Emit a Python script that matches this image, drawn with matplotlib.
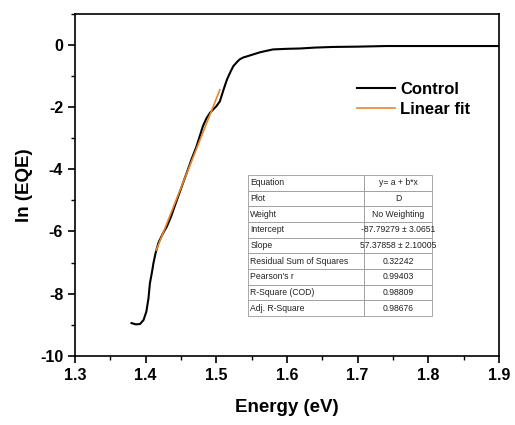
import matplotlib.pyplot as plt
import numpy as np
from matplotlib.ticker import MultipleLocator

plt.rcParams['font.family'] = ['Liberation Sans', 'DejaVu Sans']
plt.rcParams['font.weight'] = 'bold'
plt.rcParams['axes.unicode_minus'] = False

# ln(EQE) vs photon energy
energy = [1.380, 1.386, 1.392, 1.397, 1.401, 1.404, 1.406, 1.409, 1.411, 1.414, 1.418,
          1.424, 1.430, 1.436, 1.441, 1.450, 1.458, 1.465, 1.472, 1.477, 1.481, 1.486,
          1.491, 1.496, 1.500, 1.505, 1.510, 1.515, 1.520, 1.524, 1.529, 1.533, 1.538,
          1.548, 1.562, 1.580, 1.600, 1.618, 1.640, 1.665, 1.700, 1.741, 1.800, 1.850, 1.900]
ln_eqe = [-8.95, -8.99, -8.98, -8.85, -8.58, -8.15, -7.67, -7.30, -7.02, -6.70, -6.37,
          -6.08, -5.84, -5.52, -5.19, -4.62, -4.12, -3.67, -3.26, -2.90, -2.61, -2.36,
          -2.18, -2.06, -1.97, -1.81, -1.45, -1.11, -0.86, -0.68, -0.55, -0.46, -0.40,
          -0.33, -0.23, -0.14, -0.12, -0.11, -0.08, -0.06, -0.05, -0.03, -0.03, -0.03, -0.03]

# linear fit over the band edge
intercept = -87.79279
slope = 57.37858
fit_range = [1.415, 1.505]

table_rows = [
    ['Equation', 'y= a + b*x'],
    ['Plot', 'D'],
    ['Weight', 'No Weighting'],
    ['Intercept', '-87.79279 ± 3.0651'],
    ['Slope', '57.37858 ± 2.10005'],
    ['Residual Sum of Squares', '0.32242'],
    ["Pearson's r", '0.99403'],
    ['R-Square (COD)', '0.98809'],
    ['Adj. R-Square', '0.98676'],
]

fig = plt.figure(figsize=(5.15, 4.25), dpi=100)
ax = fig.add_axes([0.1456, 0.163, 0.8234, 0.804])

ax.plot(energy, ln_eqe, color='black', lw=1.5, label='Control')
xf = np.array(fit_range)
ax.plot(xf, intercept + slope * xf, color='#e8852a', lw=1.2, label='Linear fit')

ax.set_xlim(1.3, 1.9)
ax.set_ylim(-10, 1)
ax.xaxis.set_major_locator(MultipleLocator(0.1))
ax.xaxis.set_minor_locator(MultipleLocator(0.05))
ax.yaxis.set_major_locator(MultipleLocator(2))
ax.yaxis.set_minor_locator(MultipleLocator(1))
ax.tick_params(which='major', direction='out', length=5, width=1.2, labelsize=11.5)
ax.tick_params(which='minor', direction='out', length=3, width=1.0)
for s in ax.spines.values():
    s.set_linewidth(1.2)

ax.set_xlabel('Energy (eV)', fontsize=13.5, fontweight='bold', labelpad=12)
ax.set_ylabel('ln (EQE)', fontsize=13.5, fontweight='bold', labelpad=5)

ax.legend(loc='upper left', bbox_to_anchor=(0.63, 0.845), frameon=False,
          fontsize=12, handlelength=2.3, handletextpad=0.3, labelspacing=0.3)

tbl = ax.table(cellText=table_rows, colWidths=[0.63, 0.37],
               bbox=[0.408, 0.116, 0.435, 0.413])
tbl.auto_set_font_size(False)
tbl.set_fontsize(6.2)
for (r, c), cell in tbl.get_celld().items():
    cell.set_edgecolor('#9a9a9a')
    cell.set_linewidth(0.6)
    cell.get_text().set_fontweight('normal')
    cell.get_text().set_color('#222222')
    if c == 0:
        cell.get_text().set_ha('left')
        cell.PAD = 0.02
    else:
        cell.get_text().set_ha('center')

fig.savefig('out.png', dpi=100)
